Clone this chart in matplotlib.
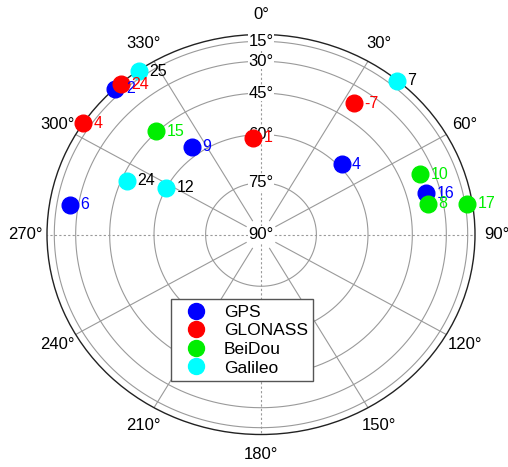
import numpy as np
import matplotlib
matplotlib.use("Agg")
import matplotlib.pyplot as plt
from matplotlib.lines import Line2D

plt.rcParams['font.family'] = ['Liberation Sans', 'DejaVu Sans']

# Satellite sky positions: azimuth (deg, clockwise from north), elevation (deg)
gps_prn = [2, 9, 6, 4, 16]
gps_az = [317.0, 323.6, 279.4, 47.0, 75.0]
gps_el = [4.0, 57.0, 25.0, 59.0, 37.0]

glonass_prn = [24, 4, 1, -7]
glonass_az = [319.0, 303.8, 355.6, 33.5]
glonass_el = [5.0, 2.0, 61.0, 38.0]

beidou_prn = [15, 10, 8, 17]
beidou_az = [316.5, 67.9, 78.9, 81.0]
beidou_el = [44.5, 36.7, 37.4, 12.8]

galileo_prn = [25, 24, 12, 7]
galileo_az = [325.0, 293.1, 297.9, 39.6]
galileo_el = [4.0, 47.0, 60.0, 4.5]

systems = ["GPS", "GLONASS", "BeiDou", "Galileo"]
marker_colors = ["#0000ff", "#ff0000", "#00ee00", "#00ffff"]
text_colors = ["#0000ff", "#ff0000", "#00ee00", "#000000"]

elev_rings = [15, 30, 45, 60, 75]
elev_labels = [15, 30, 45, 60, 75, 90]
az_ticks = list(range(0, 360, 30))

fig = plt.figure(figsize=(5.08, 4.67), dpi=100)
ax = fig.add_axes([47 / 508, 32.5 / 467, 428 / 508, 400 / 467], projection='polar')
ax.set_aspect('auto')
ax.set_theta_zero_location('N')
ax.set_theta_direction(-1)
ax.set_ylim(0, 1)
ax.set_xticks([])
ax.set_yticks([])
ax.grid(False)
ax.spines['polar'].set_color('#222222')
ax.spines['polar'].set_linewidth(1.0)


def rad(el):
    # orthographic projection of elevation onto the sky disc
    return np.cos(np.deg2rad(el))


grid_col = '#9a9a9a'
theta_full = np.linspace(0, 2 * np.pi, 400)
for el in elev_rings:
    ax.plot(theta_full, np.full_like(theta_full, rad(el)), color=grid_col,
            lw=0.8, zorder=1)

for az in az_ticks:
    t = np.deg2rad(az)
    if az % 90 == 0:
        ax.plot([t, t], [0, 1], color=grid_col, lw=0.8, ls=(0, (2, 2)), zorder=1)
    else:
        ax.plot([t, t], [0.08, 1], color=grid_col, lw=0.8, zorder=1)
    ax.text(t, 1.10, f"{az}°", ha='center', va='center', fontsize=12,
            clip_on=False)

for el in elev_labels:
    ax.text(0, rad(el), f"{el}°", ha='center', va='center', fontsize=12,
            zorder=3, bbox=dict(facecolor='white', edgecolor='none', pad=0.5))

data = [
    (gps_prn, gps_az, gps_el),
    (glonass_prn, glonass_az, glonass_el),
    (beidou_prn, beidou_az, beidou_el),
    (galileo_prn, galileo_az, galileo_el),
]

handles = []
for (prn, az, el), name, mc, tc in zip(data, systems, marker_colors, text_colors):
    th = np.deg2rad(az)
    r = rad(np.array(el))
    ax.plot(th, r, 'o', ms=12, color=mc, mec=mc, zorder=4, clip_on=False)
    for p, t_, r_ in zip(prn, th, r):
        ax.annotate(str(p), (t_, r_), xytext=(7.5, 0), textcoords='offset points',
                    ha='left', va='center', fontsize=11.5, color=tc, zorder=5,
                    annotation_clip=False)
    handles.append(Line2D([], [], marker='o', ls='none', ms=11.5, color=mc, mec=mc,
                          label=name))

leg = fig.legend(handles=handles, loc='center', bbox_to_anchor=(242 / 508, 1 - 340 / 467),
                 fontsize=12.5, frameon=True, fancybox=False, framealpha=1,
                 edgecolor='#555555', borderpad=0.3, labelspacing=0.2,
                 handlelength=2.3, handletextpad=0.45)
leg.get_frame().set_linewidth(1.0)

fig.savefig("out.png", dpi=100)
